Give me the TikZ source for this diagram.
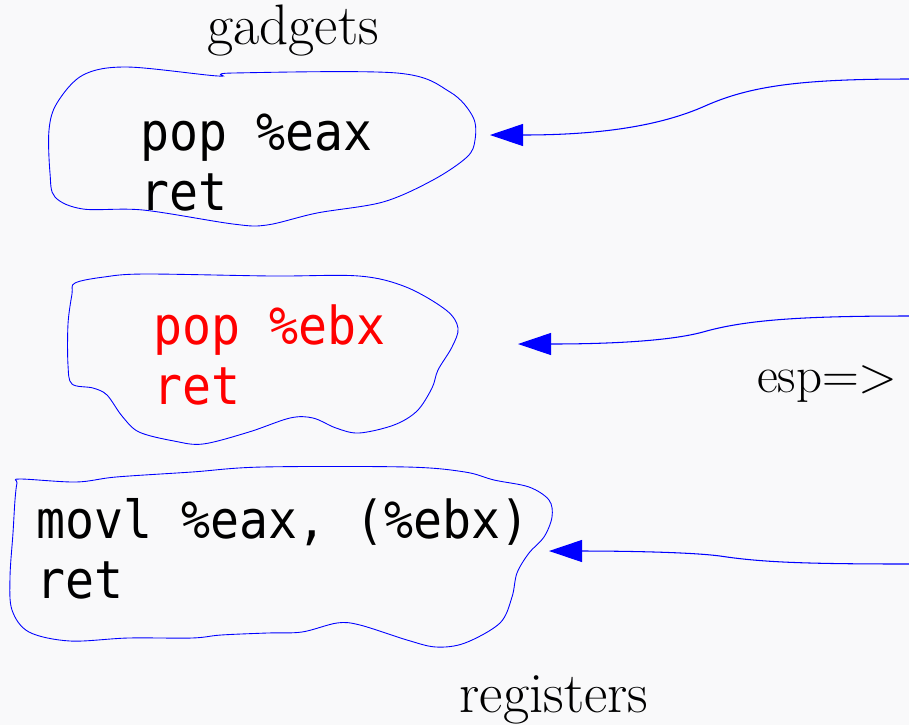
\documentclass[tikz,border=0pt]{standalone}
\usepackage{fontspec}
\setmonofont[FakeStretch=0.92]{DejaVu Sans Mono}
\usepackage{tikz}
\usetikzlibrary{arrows.meta, positioning}

\definecolor{fond}{RGB}{249,249,250}
\tikzset{
	code/.style={anchor=base west, inner sep=0pt, align=left, font=\ttfamily\fontsize{29.8}{34}\selectfont},
	titre/.style={anchor=base, inner sep=0pt, font=\fontsize{32.5}{38}\selectfont},
	bulle/.style={draw=blue, line width=0.5pt},
	fleche/.style={draw=blue, line width=0.6pt, -{Triangle[length=6.6mm, width=4.4mm]}}
}

\begin{document}
\begin{tikzpicture}[x=0.02cm, y=-0.02cm]
	\fill[fond] (0,0) rectangle (909,725);
	\useasboundingbox (0,0) rectangle (909,725);

	\node[titre] (gadgets)		at (293, 44)	{gadgets};
	\node[titre] (registers)	at (554, 712)	{registers};
	\node[titre, anchor=base east, font=\fontsize{29}{35}\selectfont] (esp)	at (898, 392)	{esp=>};

	% derniere ligne = base du noeud
	\node[code] (gadget1)		at (140, 210)	{pop \%eax\\ret};
	\node[code, text=red] (gadget2)	at (153, 404)	{pop \%ebx\\ret};
	\node[code] (gadget3)		at (36, 598)	{movl \%eax, (\%ebx)\\ret};

	%bulles
	\draw[bulle] plot[smooth cycle, tension=0.55] coordinates {(127,67) (218,76) (233,73) (397,73) (450,92) (473,117) (475,140) (467,157) (433,180) (383,202) (317,213) (267,225) (233,224) (143,210) (83,209) (55,197) (50,173) (49,130) (57,103) (83,75)};
	\draw[bulle] plot[smooth cycle, tension=0.55] coordinates {(75,283) (104,277) (145,274) (272,276) (359,276) (406,287) (446,310) (458,328) (452,347) (438,370) (432,388) (417,411) (394,425) (359,433) (336,428) (313,418) (290,418) (249,432) (203,444) (174,441) (139,432) (122,416) (107,395) (93,388) (72,384) (68,365) (68,324) (72,294)};
	\draw[bulle] plot[smooth cycle, tension=0.55] coordinates {(20,479) (76,482) (116,477) (192,472) (262,467) (407,467) (465,472) (494,480) (529,487) (549,500) (552,517) (544,537) (529,553) (517,573) (512,597) (500,623) (465,643) (436,647) (407,640) (360,625) (337,623) (302,632) (267,633) (221,635) (192,638) (128,638) (70,641) (29,632) (12,610) (10,577) (13,533) (15,500) (17,483)};

	%pile a droite
	\coordinate (src1)	at (909, 79);
	\coordinate (src2)	at (909, 316);
	\coordinate (src3)	at (909, 564);
	\coordinate (in1)	at (490, 135);
	\coordinate (in2)	at (518, 344);
	\coordinate (in3)	at (549, 551);

	\draw[fleche] (src1) .. controls (800,79) and (750,86) .. (705,106) .. controls (660,126) and (600,135) .. (in1);
	\draw[fleche] (src2) .. controls (800,316) and (745,320) .. (703,332) .. controls (670,341) and (610,344) .. (in2);
	\draw[fleche] (src3) .. controls (800,564) and (760,562) .. (720,556) .. controls (690,552) and (620,551) .. (in3);
\end{tikzpicture}
\end{document}
